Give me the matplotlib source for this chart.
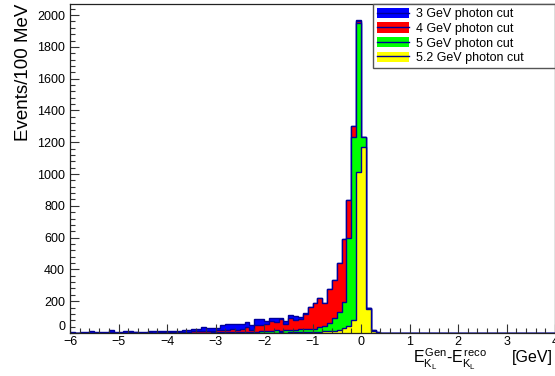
import numpy as np
import matplotlib
matplotlib.use('Agg')
from matplotlib import pyplot as plt
from matplotlib.patches import Patch
from matplotlib.lines import Line2D
from matplotlib.legend_handler import HandlerTuple
from matplotlib.ticker import MultipleLocator

plt.rcParams['font.family'] = ['Liberation Sans', 'DejaVu Sans']
plt.rcParams['mathtext.fontset'] = 'custom'
plt.rcParams['mathtext.rm'] = 'Liberation Sans'
plt.rcParams['mathtext.it'] = 'Liberation Sans'

# 100 MeV bins from -6 to 4 GeV
edges = np.round(np.linspace(-6.0, 4.0, 101), 1)

cut_3gev = [4, 3, 5, 4, 10, 5, 6, 5, 17, 6,
            6, 12, 10, 9, 7, 8, 14, 12, 13, 15,
            12, 14, 13, 22, 20, 26, 28, 36, 34, 34,
            34, 50, 54, 54, 57, 57, 71, 50, 86, 86,
            78, 96, 92, 96, 78, 113, 107, 103, 128, 161,
            187, 222, 187, 275, 333, 442, 589, 836, 1302, 1970,
            1235, 160, 19, 5, 2, 0, 1, 2, 0, 1,
            1, 0, 1, 0, 0, 1, 0, 0, 1, 0,
            0, 1, 0, 0, 0, 1, 0, 0, 0, 1,
            0, 0, 1, 0, 0, 0, 1, 0, 0, 0]
cut_4gev = [1, 0, 2, 1, 3, 1, 2, 1, 4, 2,
            2, 3, 4, 9, 3, 2, 4, 3, 5, 4,
            4, 5, 6, 8, 7, 10, 10, 12, 14, 15,
            18, 22, 22, 24, 22, 25, 36, 19, 50, 50,
            54, 78, 71, 86, 57, 92, 80, 88, 118, 161,
            187, 222, 187, 275, 333, 442, 589, 836, 1302, 1962,
            1235, 158, 18, 4, 1, 0, 1, 1, 0, 0,
            1, 0, 0, 0, 0, 1, 0, 0, 0, 0,
            0, 0, 0, 0, 0, 1, 0, 0, 0, 0,
            0, 0, 1, 0, 0, 0, 0, 0, 0, 0]
cut_5gev = [0, 1, 0, 0, 1, 0, 0, 1, 0, 0,
            1, 0, 1, 0, 0, 1, 0, 1, 1, 0,
            1, 1, 2, 1, 2, 2, 3, 2, 3, 4,
            4, 5, 4, 6, 5, 8, 6, 7, 9, 12,
            10, 12, 16, 14, 18, 20, 22, 24, 25, 26,
            28, 35, 44, 61, 92, 134, 197, 597, 1235, 1952,
            1235, 158, 15, 3, 1, 0, 0, 1, 0, 0,
            0, 0, 0, 0, 0, 1, 0, 0, 0, 0,
            0, 0, 0, 0, 0, 0, 0, 0, 0, 0,
            0, 0, 1, 0, 0, 0, 0, 0, 0, 0]
cut_52gev = [0, 0, 0, 0, 1, 0, 0, 0, 0, 0,
             0, 0, 1, 0, 0, 0, 0, 0, 1, 0,
             0, 1, 0, 1, 1, 0, 1, 1, 1, 2,
             1, 2, 2, 2, 3, 2, 3, 2, 3, 3,
             2, 3, 2, 4, 3, 5, 4, 5, 6, 7,
             6, 8, 10, 12, 15, 20, 30, 44, 82, 1015,
             1172, 150, 12, 2, 0, 0, 0, 0, 0, 0,
             0, 0, 0, 0, 0, 0, 0, 0, 0, 0,
             0, 0, 0, 0, 0, 0, 0, 0, 0, 0,
             0, 0, 0, 0, 0, 0, 0, 0, 0, 0]

labels = ['3 GeV photon cut', '4 GeV photon cut', '5 GeV photon cut', '5.2 GeV photon cut']
fills = ['#0000ff', '#ff0000', '#00ff00', '#ffff00']
line_col = '#000099'

fig = plt.figure(figsize=(5.55, 3.76), dpi=100)
ax = fig.add_axes([70 / 555, 43 / 376, 485 / 555, 329 / 376])

for vals, c in zip([cut_3gev, cut_4gev, cut_5gev, cut_52gev], fills):
    ax.stairs(vals, edges, fill=True, facecolor=c, edgecolor=line_col, linewidth=1)

ax.set_xlim(-6, 4)
ax.set_ylim(0, 2070)
ax.xaxis.set_major_locator(MultipleLocator(1))
ax.xaxis.set_minor_locator(MultipleLocator(0.2))
ax.yaxis.set_major_locator(MultipleLocator(200))
ax.yaxis.set_minor_locator(MultipleLocator(40))
ax.tick_params(which='both', direction='in', top=False, right=False,
               labelsize=9, width=0.8, color='#333333')
ax.tick_params(which='major', length=6.5)
ax.tick_params(which='minor', length=3.3)
ax.tick_params(axis='x', pad=2.5)
ax.tick_params(axis='y', pad=3.5)
for sp in ax.spines.values():
    sp.set_linewidth(0.9)
    sp.set_color('#222222')

ax.set_ylabel('Events/100 MeV', fontsize=13.5, loc='top')
ax.yaxis.set_label_coords(-0.078, 1.0)

fig.text(413 / 555, 1 - 364 / 376, r'$E^{Gen}_{K_{L}}$-$E^{reco}_{K_{L}}$',
         fontsize=11.5, ha='left', va='baseline')
fig.text(553 / 555, 1 - 362 / 376, '[GeV]', fontsize=11.5, ha='right', va='baseline')

handles = [(Patch(facecolor=c, edgecolor='none'), Line2D([], [], color=line_col, lw=1)) for c in fills]
leg = fig.legend(handles, labels, handler_map={tuple: HandlerTuple(ndivide=1, pad=0)},
                 loc='upper left', bbox_to_anchor=(373 / 555, 1 - 66 / 376, 182 / 555, 62 / 376),
                 mode='expand', fontsize=9, frameon=True, fancybox=False, framealpha=1,
                 edgecolor='#555555', borderpad=0.3, labelspacing=0.17,
                 handlelength=2.6, handleheight=0.9, handletextpad=0.5,
                 borderaxespad=0)
leg.get_frame().set_linewidth(1)

# lift the "0" label a bit so it clears the "-6" below it
fig.canvas.draw()
for t in ax.get_yticklabels():
    if t.get_text() == '0':
        t.set_va('bottom')

plt.savefig('out.png', dpi=100)
